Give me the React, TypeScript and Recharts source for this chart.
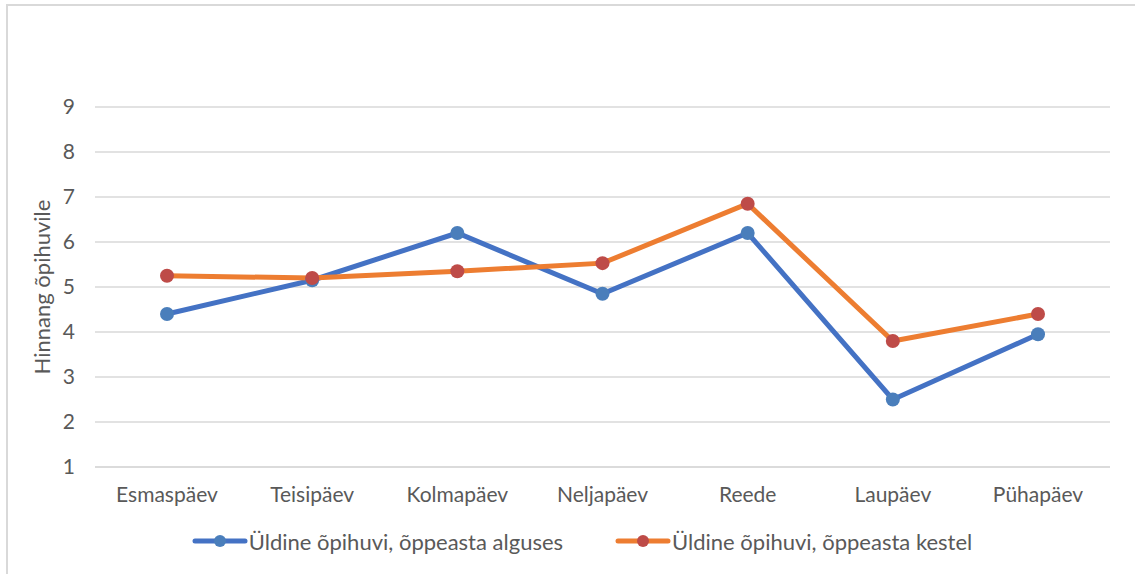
import React from 'react';
import { LineChart, Line, XAxis, YAxis, CartesianGrid, Legend } from 'recharts';

const categories = ['Esmaspäev', 'Teisipäev', 'Kolmapäev', 'Neljapäev', 'Reede', 'Laupäev', 'Pühapäev'];
const seriesStart = [4.4, 5.15, 6.2, 4.85, 6.2, 2.5, 3.95];
const seriesDuring = [5.25, 5.2, 5.35, 5.53, 6.85, 3.8, 4.4];
const yTicks = [1, 2, 3, 4, 5, 6, 7, 8, 9];
const seriesNames = ['Üldine õpihuvi, õppeasta alguses', 'Üldine õpihuvi, õppeasta kestel'];
const yLabel = 'Hinnang õpihuvile';

const data = categories.map((c, i) => ({ name: c, start: seriesStart[i], during: seriesDuring[i] }));

const FONT = 'Lato, "Open Sans", sans-serif';
const TEXT = '#595959';
const BLUE = '#4472C4';
const BLUE_M = '#4A7EBB';
const ORANGE = '#ED7D31';
const RED_M = '#BE4B48';

const legendItems = [
  { name: seriesNames[0], line: BLUE, marker: BLUE_M },
  { name: seriesNames[1], line: ORANGE, marker: RED_M },
];

const LegendContent = () => (
  <div style={{ display: 'flex', justifyContent: 'center', alignItems: 'center', height: 30, fontFamily: FONT, fontSize: 22, color: TEXT, gap: 52, paddingLeft: 54 }}>
    {legendItems.map((it) => (
      <div key={it.name} style={{ display: 'flex', alignItems: 'center' }}>
        <svg width={56} height={14} style={{ marginRight: 1 }}>
          <line x1={3} y1={7} x2={53} y2={7} stroke={it.line} strokeWidth={5} strokeLinecap="round" />
          <circle cx={28} cy={7} r={6} fill={it.marker} />
        </svg>
        <span>{it.name}</span>
      </div>
    ))}
  </div>
);

export default function App() {
  return (
    <div style={{ position: 'absolute', left: 0, top: 0, width: 1135, height: 574, background: '#fff', overflow: 'hidden' }}>
      <div style={{ position: 'absolute', left: 6, top: 4, width: 1140, height: 580, borderTop: '2px solid #d9d9d9', borderLeft: '2px solid #d9d9d9' }} />
      <div style={{ position: 'absolute', left: 0, top: 0 }}>
        <LineChart width={1135} height={574} data={data} margin={{ top: 107, right: 25, bottom: 18, left: 0 }}>
          <CartesianGrid vertical={false} stroke="#d9d9d9" strokeWidth={1.5} />
          <XAxis
            dataKey="name"
            tickLine={false}
            axisLine={{ stroke: '#d9d9d9', strokeWidth: 1.5 }}
            tickSize={0}
            tickMargin={20}
            height={59}
            padding={{ left: 72, right: 72 }}
            tick={{ fill: TEXT, fontSize: 21, fontFamily: FONT }}
            interval={0}
          />
          <YAxis
            domain={[1, 9]}
            ticks={yTicks}
            width={95}
            tickLine={false}
            axisLine={false}
            tickSize={0}
            tickMargin={20}
            tick={{ fill: TEXT, fontSize: 21, fontFamily: FONT }}
            label={{ value: yLabel, angle: -90, position: 'insideLeft', offset: 42, style: { textAnchor: 'middle', fill: TEXT, fontSize: 22, fontFamily: FONT } }}
          />
          <Legend verticalAlign="bottom" content={<LegendContent />} />
          <Line type="linear" dataKey="start" name={seriesNames[0]} stroke={BLUE} strokeWidth={5} dot={{ r: 7, fill: BLUE_M, stroke: 'none' }} activeDot={false} isAnimationActive={false} />
          <Line type="linear" dataKey="during" name={seriesNames[1]} stroke={ORANGE} strokeWidth={5} dot={{ r: 7, fill: RED_M, stroke: 'none' }} activeDot={false} isAnimationActive={false} />
        </LineChart>
      </div>
    </div>
  );
}
